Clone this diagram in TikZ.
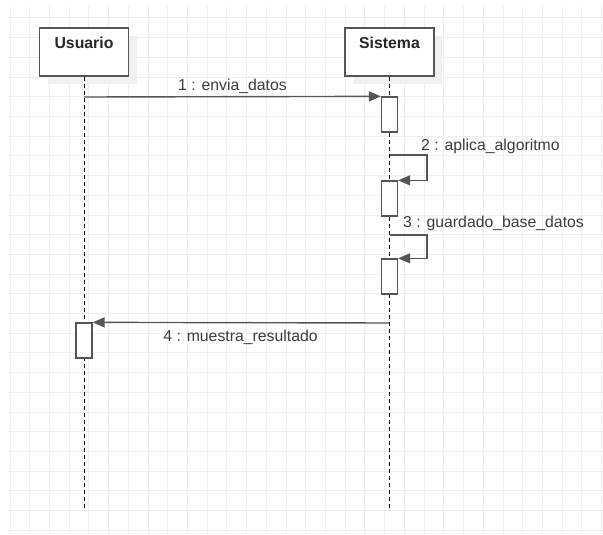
\documentclass[tikz,border=0pt]{standalone}
\usepackage{fontspec}
\setmainfont{Liberation Sans}
\usetikzlibrary{arrows.meta}
\definecolor{gridgray}{HTML}{EFEFEF}
\definecolor{linegray}{HTML}{555555}
\definecolor{textgray}{HTML}{3C3C3C}
\definecolor{shadowgray}{HTML}{F0F0F0}

\begin{document}
\begin{tikzpicture}[x=1pt,y=-1pt,
	gridline/.style={draw=gridgray,line width=1pt},
	actor/.style={draw=linegray,line width=1.5pt,fill=white,minimum width=89pt,minimum height=48pt,inner sep=0pt},
	actorname/.style={anchor=north,yshift=-10pt,inner sep=0pt,text=black!85,font=\fontsize{15.8}{19}\selectfont\bfseries},
	lifeline/.style={draw=black,line width=1pt,dash pattern=on 4pt off 3pt},
	activation/.style={draw=linegray,line width=1.3pt,fill=white,minimum width=16pt,minimum height=35pt,inner sep=0pt},
	message/.style={draw=linegray,line width=1.4pt,-{Triangle[length=12pt,width=10pt]}},
	msglabel/.style={inner sep=0pt,text=textgray,font=\fontsize{15.8}{19}\selectfont}]
		
		\useasboundingbox (0,0) rectangle (603,535);
		
		% THE GRID
		\foreach \gx in {0,...,30}
		\draw[gridline] ({10+19.72*\gx},6) -- ({10+19.72*\gx},535);
		\foreach \gy in {0,...,26}
		\draw[gridline] (8,{18+19.7*\gy}) -- (603,{18+19.7*\gy});
		%
		% THE ACTORS
		\fill[shadowgray] (48,36) rectangle (137,84);
		\fill[shadowgray] (353,36) rectangle (442,84);
		\node[actor,label={[actorname]north:Usuario}] (usuario) at (84,52) {};
		\node[actor,label={[actorname]north:Sistema}] (sistema) at (389.5,52) {};
		%
		% THE LIFELINES
		\coordinate (usuarioend) at (84,508);
		\coordinate (sistemaend) at (389.5,508);
		\draw[lifeline] (usuario.south) -- (usuarioend);
		\draw[lifeline] (sistema.south) -- (sistemaend);
		%
		% THE ACTIVATIONS
		\node[activation] (act1) at (389.5,114.5) {};
		\node[activation] (act2) at (389.5,198.5) {};
		\node[activation] (act3) at (389.5,276.5) {};
		\node[activation] (act4) at (84,340.5) {};
		%
		% THE MESSAGES
		% 1
		\coordinate (m1) at (84,97);
		\draw[message] (m1) -- (act1.north west);
		\node[msglabel,anchor=base] (l1) at (232.5,90.5) {1 : envia\_datos};
		% 2
		\coordinate (m2) at (389.5,155);
		\draw[message] (m2) -- ++(37.5,0) |- (act2.north east);
		\node[msglabel,anchor=base west] (l2) at (421,150) {2 : aplica\_algoritmo};
		% 3
		\coordinate (m3) at (389.5,235);
		\draw[message] (m3) -- ++(37.5,0) |- (act3.north east);
		\node[msglabel,anchor=base west] (l3) at (403,227) {3 : guardado\_base\_datos};
		% 4
		\coordinate (m4) at (389.5,323);
		\draw[message] (m4) -- (act4.north east);
		\node[msglabel,anchor=base] (l4) at (240.5,341) {4 : muestra\_resultado};
		
	\end{tikzpicture}
\end{document}
